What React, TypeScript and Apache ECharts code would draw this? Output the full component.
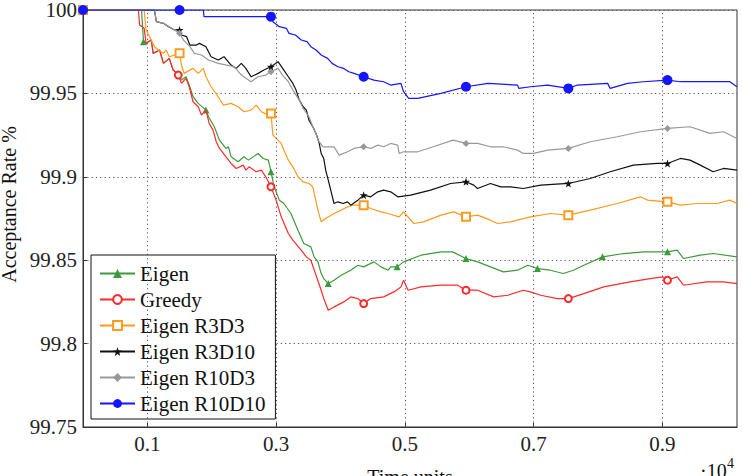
import React, { useEffect, useRef } from 'react';
import * as echarts from 'echarts';

// ---------- data (x in units of 10^4 time units, y = acceptance rate %) ----------
const seriesNames = ['Eigen', 'Greedy', 'Eigen R3D3', 'Eigen R3D10', 'Eigen R10D3', 'Eigen R10D10'];

const eigenX = [0, 0.091, 0.094, 0.098, 0.106, 0.109, 0.119, 0.125, 0.134, 0.140, 0.148, 0.153, 0.160, 0.165, 0.171, 0.179, 0.191, 0.195, 0.204, 0.212, 0.222, 0.226, 0.230, 0.241, 0.250, 0.257, 0.272, 0.280, 0.288, 0.292, 0.297, 0.305, 0.312, 0.323, 0.334, 0.343, 0.354, 0.359, 0.365, 0.370, 0.374, 0.381, 0.390, 0.401, 0.416, 0.427, 0.436, 0.452, 0.463, 0.474, 0.478, 0.488, 0.498, 0.525, 0.556, 0.574, 0.595, 0.613, 0.633, 0.653, 0.675, 0.691, 0.706, 0.726, 0.746, 0.762, 0.778, 0.807, 0.840, 0.871, 0.908, 0.923, 0.933, 0.959, 0.979, 1.016];
const eigenY = [100, 100, 99.981, 99.980, 99.982, 99.974, 99.976, 99.968, 99.971, 99.964, 99.962, 99.958, 99.960, 99.955, 99.948, 99.944, 99.940, 99.936, 99.930, 99.922, 99.917, 99.918, 99.912, 99.909, 99.912, 99.910, 99.914, 99.911, 99.910, 99.903, 99.894, 99.886, 99.884, 99.878, 99.868, 99.860, 99.858, 99.852, 99.849, 99.842, 99.839, 99.836, 99.838, 99.841, 99.844, 99.847, 99.846, 99.849, 99.846, 99.844, 99.846, 99.846, 99.849, 99.853, 99.855, 99.855, 99.851, 99.849, 99.846, 99.843, 99.844, 99.847, 99.845, 99.844, 99.842, 99.844, 99.847, 99.852, 99.854, 99.855, 99.855, 99.856, 99.851, 99.853, 99.854, 99.852];
const eigenMarks = [0, 0.094, 0.191, 0.292, 0.381, 0.488, 0.595, 0.706, 0.807, 0.908];

const greedyX = [0, 0.086, 0.088, 0.095, 0.098, 0.106, 0.109, 0.119, 0.125, 0.134, 0.140, 0.148, 0.153, 0.160, 0.165, 0.171, 0.179, 0.184, 0.191, 0.196, 0.202, 0.207, 0.212, 0.218, 0.230, 0.238, 0.249, 0.253, 0.258, 0.269, 0.277, 0.284, 0.292, 0.300, 0.308, 0.319, 0.326, 0.339, 0.347, 0.354, 0.362, 0.370, 0.374, 0.381, 0.390, 0.405, 0.416, 0.427, 0.436, 0.447, 0.467, 0.483, 0.494, 0.498, 0.505, 0.525, 0.556, 0.582, 0.595, 0.613, 0.638, 0.660, 0.684, 0.695, 0.711, 0.737, 0.754, 0.778, 0.809, 0.850, 0.881, 0.901, 0.908, 0.923, 0.933, 0.969, 0.995, 1.016];
const greedyY = [100, 100, 99.991, 99.989, 99.980, 99.982, 99.974, 99.976, 99.968, 99.971, 99.964, 99.961, 99.956, 99.959, 99.954, 99.945, 99.942, 99.937, 99.940, 99.932, 99.928, 99.921, 99.917, 99.914, 99.908, 99.905, 99.907, 99.904, 99.906, 99.903, 99.904, 99.900, 99.894, 99.886, 99.876, 99.866, 99.862, 99.856, 99.852, 99.850, 99.841, 99.832, 99.827, 99.820, 99.822, 99.825, 99.828, 99.827, 99.824, 99.827, 99.828, 99.831, 99.834, 99.838, 99.832, 99.834, 99.835, 99.835, 99.832, 99.832, 99.828, 99.829, 99.832, 99.831, 99.829, 99.827, 99.827, 99.830, 99.834, 99.837, 99.839, 99.840, 99.838, 99.840, 99.835, 99.837, 99.837, 99.836];
const greedyMarks = [0, 0.148, 0.292, 0.436, 0.595, 0.754, 0.908];

const r3d3X = [0, 0.095, 0.098, 0.106, 0.111, 0.117, 0.125, 0.129, 0.134, 0.150, 0.153, 0.157, 0.171, 0.179, 0.187, 0.191, 0.199, 0.210, 0.218, 0.230, 0.241, 0.250, 0.261, 0.269, 0.277, 0.288, 0.292, 0.295, 0.303, 0.308, 0.312, 0.319, 0.326, 0.334, 0.342, 0.351, 0.357, 0.365, 0.370, 0.377, 0.390, 0.401, 0.411, 0.419, 0.436, 0.447, 0.463, 0.474, 0.491, 0.498, 0.514, 0.529, 0.556, 0.576, 0.595, 0.613, 0.633, 0.644, 0.664, 0.695, 0.726, 0.754, 0.788, 0.830, 0.866, 0.877, 0.908, 0.928, 0.954, 0.985, 1.005, 1.016];
const r3d3Y = [100, 100, 99.988, 99.982, 99.978, 99.976, 99.974, 99.976, 99.972, 99.974, 99.967, 99.962, 99.965, 99.962, 99.965, 99.960, 99.954, 99.948, 99.943, 99.944, 99.942, 99.939, 99.940, 99.943, 99.939, 99.937, 99.938, 99.925, 99.922, 99.920, 99.916, 99.910, 99.906, 99.900, 99.897, 99.896, 99.894, 99.880, 99.873, 99.875, 99.878, 99.880, 99.882, 99.883, 99.883, 99.881, 99.879, 99.878, 99.876, 99.879, 99.872, 99.873, 99.877, 99.879, 99.876, 99.877, 99.874, 99.872, 99.873, 99.876, 99.878, 99.877, 99.880, 99.884, 99.888, 99.886, 99.885, 99.883, 99.884, 99.884, 99.886, 99.884];
const r3d3Marks = [0, 0.150, 0.292, 0.436, 0.595, 0.754, 0.908];

const r3d10X = [0, 0.111, 0.114, 0.125, 0.133, 0.142, 0.150, 0.153, 0.161, 0.166, 0.176, 0.181, 0.191, 0.199, 0.210, 0.219, 0.230, 0.238, 0.246, 0.253, 0.261, 0.272, 0.281, 0.292, 0.303, 0.312, 0.319, 0.326, 0.331, 0.336, 0.342, 0.347, 0.351, 0.357, 0.362, 0.367, 0.370, 0.374, 0.377, 0.381, 0.390, 0.396, 0.404, 0.411, 0.416, 0.427, 0.436, 0.447, 0.458, 0.467, 0.478, 0.489, 0.509, 0.540, 0.571, 0.595, 0.607, 0.613, 0.633, 0.649, 0.664, 0.684, 0.711, 0.754, 0.788, 0.819, 0.855, 0.892, 0.908, 0.928, 0.943, 0.959, 0.979, 0.995, 1.016];
const r3d10Y = [100, 100, 99.993, 99.992, 99.990, 99.988, 99.988, 99.985, 99.984, 99.979, 99.979, 99.980, 99.978, 99.972, 99.970, 99.972, 99.967, 99.965, 99.968, 99.965, 99.960, 99.962, 99.964, 99.966, 99.969, 99.964, 99.960, 99.956, 99.952, 99.946, 99.942, 99.940, 99.934, 99.930, 99.926, 99.920, 99.914, 99.911, 99.904, 99.898, 99.884, 99.885, 99.884, 99.885, 99.883, 99.886, 99.889, 99.888, 99.891, 99.892, 99.891, 99.888, 99.889, 99.892, 99.896, 99.897, 99.895, 99.893, 99.896, 99.894, 99.894, 99.893, 99.895, 99.896, 99.899, 99.903, 99.907, 99.908, 99.908, 99.911, 99.910, 99.907, 99.903, 99.905, 99.904];
const r3d10Marks = [0, 0.150, 0.292, 0.436, 0.595, 0.754, 0.908];

const r10d3X = [0, 0.111, 0.114, 0.125, 0.142, 0.150, 0.156, 0.166, 0.173, 0.184, 0.195, 0.210, 0.223, 0.235, 0.246, 0.261, 0.272, 0.284, 0.292, 0.303, 0.310, 0.319, 0.326, 0.336, 0.342, 0.351, 0.357, 0.362, 0.365, 0.373, 0.390, 0.398, 0.411, 0.421, 0.436, 0.447, 0.458, 0.467, 0.478, 0.489, 0.491, 0.498, 0.520, 0.544, 0.575, 0.595, 0.613, 0.633, 0.653, 0.675, 0.684, 0.700, 0.722, 0.754, 0.788, 0.830, 0.866, 0.908, 0.943, 0.974, 0.995, 1.016];
const r10d3Y = [100, 100, 99.993, 99.992, 99.988, 99.986, 99.982, 99.978, 99.974, 99.973, 99.970, 99.968, 99.967, 99.966, 99.961, 99.957, 99.960, 99.961, 99.963, 99.965, 99.961, 99.957, 99.952, 99.946, 99.941, 99.936, 99.930, 99.926, 99.922, 99.918, 99.918, 99.913, 99.915, 99.917, 99.918, 99.917, 99.919, 99.918, 99.920, 99.919, 99.914, 99.915, 99.915, 99.918, 99.922, 99.920, 99.920, 99.918, 99.918, 99.916, 99.914, 99.914, 99.916, 99.917, 99.921, 99.924, 99.927, 99.929, 99.930, 99.926, 99.927, 99.923];
const r10d3Marks = [0, 0.150, 0.292, 0.436, 0.595, 0.754, 0.908];

const r10d10X = [0, 0.150, 0.187, 0.188, 0.292, 0.295, 0.305, 0.316, 0.320, 0.330, 0.339, 0.348, 0.354, 0.362, 0.370, 0.380, 0.387, 0.396, 0.405, 0.413, 0.421, 0.436, 0.452, 0.467, 0.478, 0.494, 0.498, 0.506, 0.520, 0.556, 0.595, 0.629, 0.675, 0.677, 0.695, 0.722, 0.754, 0.768, 0.815, 0.819, 0.846, 0.870, 0.908, 0.928, 0.959, 0.985, 1.005, 1.016];
const r10d10Y = [100, 100, 100, 99.996, 99.996, 99.993, 99.990, 99.989, 99.986, 99.985, 99.982, 99.981, 99.978, 99.976, 99.973, 99.971, 99.968, 99.966, 99.965, 99.963, 99.962, 99.960, 99.958, 99.957, 99.955, 99.956, 99.951, 99.947, 99.947, 99.950, 99.954, 99.956, 99.955, 99.953, 99.954, 99.955, 99.953, 99.955, 99.956, 99.953, 99.956, 99.957, 99.958, 99.957, 99.957, 99.957, 99.957, 99.954];
const r10d10Marks = [0, 0.150, 0.292, 0.436, 0.595, 0.754, 0.908];

const xTickValues = [0.1, 0.3, 0.5, 0.7, 0.9];
const yMin = 99.75;
const yMax = 100;
const yStep = 0.05;
const xMin = 0;
const xMax = 1.016;

const STAR = 'path://M0,-10L2.35,-3.24L9.51,-3.09L3.8,1.24L5.88,8.09L0,4L-5.88,8.09L-3.8,1.24L-9.51,-3.09L-2.35,-3.24Z';

const FONT = 'Liberation Serif';

function buildData(xs: number[], ys: number[], marks: number[]) {
  const idx = new Set<number>();
  marks.forEach((m) => {
    let best = 0;
    let bd = Infinity;
    xs.forEach((x, i) => {
      const d = Math.abs(x - m);
      if (d < bd) { bd = d; best = i; }
    });
    idx.add(best);
  });
  return xs.map((x, i) => (idx.has(i) ? [x, ys[i]] : { value: [x, ys[i]], symbol: 'none' }));
}

export default function App() {
  const ref = useRef<HTMLDivElement>(null);
  useEffect(() => {
    if (!ref.current) return;
    const chart = echarts.init(ref.current, undefined, { renderer: 'svg' });
    const specs = [
      { xs: eigenX, ys: eigenY, marks: eigenMarks, color: '#3c9a3c', symbol: 'triangle', size: 7 },
      { xs: greedyX, ys: greedyY, marks: greedyMarks, color: '#ff2a2a', symbol: 'emptyCircle', size: 7 },
      { xs: r3d3X, ys: r3d3Y, marks: r3d3Marks, color: '#ff9a1c', symbol: 'emptyRect', size: 8 },
      { xs: r3d10X, ys: r3d10Y, marks: r3d10Marks, color: '#111111', symbol: STAR, size: 8 },
      { xs: r10d3X, ys: r10d3Y, marks: r10d3Marks, color: '#999999', symbol: 'diamond', size: 7 },
      { xs: r10d10X, ys: r10d10Y, marks: r10d10Marks, color: '#1515ff', symbol: 'circle', size: 10 },
    ];
    const gridLineStyle = { color: '#555', type: [1.2, 3.1] as number[], width: 1 };
    const series: any[] = [
      {
        name: 'grid-x',
        type: 'line',
        data: [],
        silent: true,
        z: 1,
        markLine: {
          silent: true,
          symbol: ['none', 'none'],
          label: { show: false },
          lineStyle: gridLineStyle,
          emphasis: { disabled: true },
          data: xTickValues.map((v) => ({ xAxis: v })),
        },
      },
    ];
    specs.forEach((s, i) => {
      series.push({
        name: seriesNames[i],
        type: 'line',
        data: buildData(s.xs, s.ys, s.marks),
        symbol: s.symbol,
        symbolSize: s.size,
        showSymbol: true,
        color: s.color,
        lineStyle: { color: s.color, width: 1.2 },
        itemStyle: { color: s.color, borderColor: s.color, borderWidth: s.symbol.startsWith('empty') ? 1.2 : 0 },
        emphasis: { disabled: true },
        z: 2 + i,
      });
    });
    chart.setOption({
      animation: false,
      backgroundColor: '#ffffff',
      grid: {
        left: 83,
        right: 5,
        top: 10,
        bottom: 49,
        containLabel: false,
        outerBoundsMode: 'none',
        show: true,
        borderColor: '#333',
        borderWidth: 1,
      },
      legend: {
        data: seriesNames,
        orient: 'vertical',
        left: 91,
        top: 255,
        padding: [8, 10, 5, 8],
        itemGap: 5,
        itemWidth: 35,
        itemHeight: 11,
        backgroundColor: '#ffffff',
        borderColor: '#111',
        borderWidth: 1,
        borderRadius: 0,
        selectedMode: false,
        textStyle: { fontFamily: FONT, fontSize: 21, color: '#111', lineHeight: 21 },
      },
      xAxis: {
        type: 'value',
        min: xMin,
        max: xMax,
        name: 'Time units',
        nameLocation: 'middle',
        nameGap: 40,
        nameTextStyle: { fontFamily: FONT, fontSize: 20, color: '#111' },
        axisLine: { show: true, lineStyle: { color: '#333' } },
        axisTick: { show: true, inside: true, length: 4, customValues: xTickValues, lineStyle: { color: '#333' } },
        axisLabel: { customValues: xTickValues, fontFamily: FONT, fontSize: 21, color: '#222', margin: 6 },
        splitLine: { show: false },
      },
      yAxis: {
        type: 'value',
        min: yMin,
        max: yMax,
        interval: yStep,
        name: 'Acceptance Rate %',
        nameLocation: 'middle',
        nameGap: 57,
        nameTextStyle: { fontFamily: FONT, fontSize: 20, color: '#111', padding: [0, 0, 0, 28] },
        axisLine: { show: true, lineStyle: { color: '#333' } },
        axisTick: { show: true, inside: true, length: 4, lineStyle: { color: '#333' } },
        axisLabel: { fontFamily: FONT, fontSize: 21, color: '#222', margin: 6 },
        splitLine: { show: true, lineStyle: gridLineStyle },
      },
      graphic: [
        { type: 'text', left: 700, top: 461, style: { text: '·10', fontFamily: FONT, fontSize: 20, fill: '#111' } },
        { type: 'text', left: 727, top: 456, style: { text: '4', fontFamily: FONT, fontSize: 14, fill: '#111' } },
      ],
      series,
    });
    return () => chart.dispose();
  }, []);
  return (
    <div
      ref={ref}
      style={{ position: 'fixed', left: 0, top: 0, width: 742, height: 476, background: '#fff' }}
    />
  );
}
